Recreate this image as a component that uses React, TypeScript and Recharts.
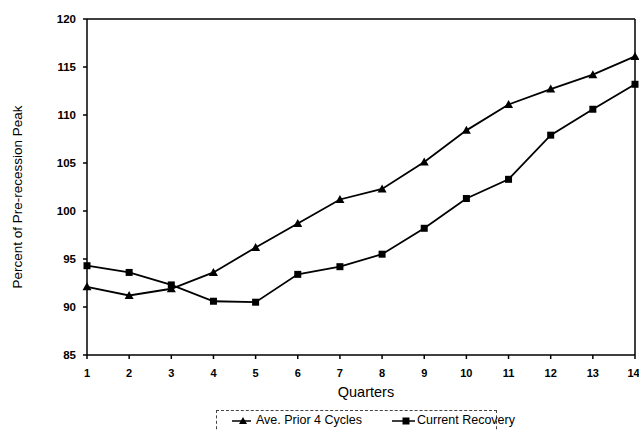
import { LineChart, Line, XAxis, YAxis, ReferenceLine } from 'recharts';

const quarters = [1, 2, 3, 4, 5, 6, 7, 8, 9, 10, 11, 12, 13, 14];
const avePrior = [92.1, 91.2, 91.9, 93.6, 96.2, 98.7, 101.2, 102.3, 105.1, 108.4, 111.1, 112.7, 114.2, 116.1];
const currentRecovery = [94.3, 93.6, 92.3, 90.6, 90.5, 93.4, 94.2, 95.5, 98.2, 101.3, 103.3, 107.9, 110.6, 113.2];
const yTicks = [85, 90, 95, 100, 105, 110, 115, 120];

const data = quarters.map((q, i) => ({ q, prior: avePrior[i], current: currentRecovery[i] }));

const font = '"Liberation Sans", Arial, Helvetica, sans-serif';

const Triangle = (props: any) => {
  const { cx, cy } = props;
  if (cx == null || cy == null) return null;
  return <path d={`M${cx},${cy - 4.5} L${cx + 4.5},${cy + 3.5} L${cx - 4.5},${cy + 3.5} Z`} fill="#000" />;
};

const Square = (props: any) => {
  const { cx, cy } = props;
  if (cx == null || cy == null) return null;
  return <rect x={cx - 3.5} y={cy - 3.5} width={7} height={7} fill="#000" />;
};

export default function App() {
  return (
    <div style={{ position: 'absolute', left: 0, top: 0, width: 639, height: 430, background: '#fff', fontFamily: font }}>
      <LineChart width={639} height={430} data={data} margin={{ top: 19, right: 4, bottom: 35, left: 0 }}>
        <XAxis
          dataKey="q"
          type="number"
          domain={[1, 14]}
          ticks={quarters}
          height={40}
          stroke="#000"
          strokeWidth={1.5}
          tickSize={4}
          tickMargin={10}
          tick={{ fill: '#000', fontSize: 11, fontWeight: 'bold', fontFamily: font }}
          label={{
            content: () => (
              <text x={366} y={392} textAnchor="middle" dominantBaseline="central" fill="#000" fontSize={14.5} fontFamily={font}>
                Quarters
              </text>
            ),
          }}
        />
        <YAxis
          domain={[85, 120]}
          ticks={yTicks}
          width={87}
          stroke="#000"
          strokeWidth={1.5}
          tickSize={4}
          tickMargin={7}
          tick={{ fill: '#000', fontSize: 11.5, fontWeight: 'bold', fontFamily: font }}
          label={{
            content: () => (
              <text
                x={17}
                y={197}
                transform="rotate(-90 17 197)"
                textAnchor="middle"
                dominantBaseline="central"
                fill="#000"
                fontSize={13.5}
                fontFamily={font}
              >
                Percent of Pre-recession Peak
              </text>
            ),
          }}
        />
        <ReferenceLine y={120} stroke="#000" strokeWidth={1.5} />
        <ReferenceLine x={14} stroke="#000" strokeWidth={1.5} />
        <Line
          dataKey="prior"
          stroke="#000"
          strokeWidth={1.8}
          dot={<Triangle />}
          activeDot={false}
          isAnimationActive={false}
        />
        <Line
          dataKey="current"
          stroke="#000"
          strokeWidth={1.8}
          dot={<Square />}
          activeDot={false}
          isAnimationActive={false}
        />
      </LineChart>
      <div
        style={{
          position: 'absolute',
          left: 216,
          top: 410,
          width: 281,
          height: 30,
          border: '1px dashed #444',
          boxSizing: 'border-box',
          fontSize: 12.5,
          color: '#000',
        }}
      >
        <svg width={281} height={30} style={{ position: 'absolute', left: 0, top: 0 }}>
          <line x1={15} y1={10} x2={34} y2={10} stroke="#000" strokeWidth={1.5} />
          <path d="M26,6 L30,13 L22,13 Z" fill="#000" />
          <line x1={175} y1={10} x2={198} y2={10} stroke="#000" strokeWidth={1.5} />
          <rect x={185.5} y={6.5} width={7} height={7} fill="#000" />
        </svg>
        <span style={{ position: 'absolute', left: 39, top: 2, whiteSpace: 'nowrap' }}>Ave. Prior 4 Cycles</span>
        <span style={{ position: 'absolute', left: 200, top: 2, whiteSpace: 'nowrap' }}>Current Recovery</span>
      </div>
    </div>
  );
}
